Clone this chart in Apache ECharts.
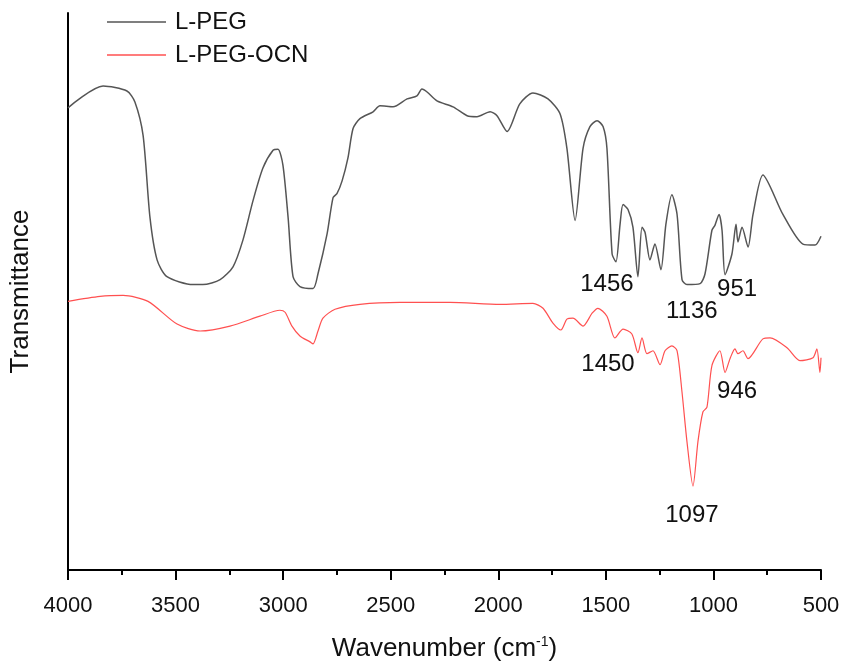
<!DOCTYPE html>
<html>
<head>
<meta charset="utf-8">
<title>FTIR</title>
<script src="https://cdn.jsdelivr.net/npm/echarts@6/dist/echarts.min.js"></script>
<style>
  html, body { margin: 0; padding: 0; background: #fff; }
  #chart { width: 843px; height: 667px; }
</style>
</head>
<body>
<div id="chart"></div>
<script>
// spectra (wavenumber cm-1, transmittance in arbitrary units)
var pegWn = [4000, 3837, 3726, 3689, 3651, 3619, 3586, 3540, 3419, 3373, 3293, 3233, 3187, 3140, 3094, 3047, 3024, 3001, 2977, 2954, 2922, 2861, 2838, 2796, 2768, 2750, 2726, 2699, 2675, 2643, 2582, 2550, 2489, 2424, 2378, 2355, 2331, 2285, 2210, 2145, 2099, 2038, 2006, 1959, 1900, 1839, 1769, 1713, 1681, 1643, 1606, 1574, 1541, 1513, 1495, 1471, 1453, 1434, 1420, 1397, 1374, 1351, 1332, 1318, 1295, 1272, 1244, 1221, 1193, 1169, 1146, 1123, 1062, 1039, 1007, 993, 974, 960, 946, 914, 895, 886, 867, 839, 816, 770, 677, 584, 528, 500];
var pegT = [468, 490, 485, 474, 440, 357, 314, 297, 289, 289, 294, 307, 334, 374, 407, 425, 426, 410, 357, 297, 287, 285, 300, 340, 377, 381, 394, 417, 447, 457, 464, 470, 469, 477, 480, 487, 484, 475, 469, 460, 459, 464, 460, 444, 472, 483, 477, 462, 427, 354, 427, 449, 455, 449, 427, 320, 312, 350, 370, 365, 347, 297, 347, 342, 314, 330, 304, 350, 380, 360, 294, 289, 290, 300, 344, 349, 360, 344, 299, 320, 350, 332, 347, 327, 360, 400, 360, 330, 329, 338];

var ocnWn = [4000, 3851, 3744, 3628, 3493, 3386, 3247, 3108, 3015, 2991, 2959, 2922, 2875, 2861, 2838, 2815, 2759, 2643, 2457, 2224, 1992, 1839, 1792, 1746, 1709, 1681, 1653, 1606, 1564, 1537, 1495, 1458, 1420, 1379, 1351, 1332, 1309, 1281, 1248, 1225, 1193, 1169, 1146, 1123, 1095, 1072, 1049, 1030, 1007, 970, 946, 923, 900, 886, 863, 839, 770, 737, 658, 598, 537, 519, 505, 500];
var ocnT = [272, 277, 278, 272, 249, 242, 247, 257, 263, 261, 247, 237, 231, 229, 242, 255, 264, 269, 271, 271, 269, 270, 265, 250, 243, 254, 255, 247, 260, 265, 257, 235, 244, 239, 220, 235, 219, 222, 208, 222, 227, 222, 180, 130, 85, 130, 160, 165, 207, 222, 200, 214, 224, 219, 222, 214, 234, 235, 225, 212, 215, 224, 200, 215];

// peak labels
var peakNames = ['1456', '1136', '951', '1450', '946', '1097'];
var peakWn = [1495, 1100, 890, 1490, 890, 1100];
var peakT = [289, 262, 284, 208, 181, 55];

function pairs(xs, ys) {
    var out = [];
    for (var i = 0; i < xs.length; i++) {
        out.push([xs[i], ys[i]]);
    }
    return out;
}

var peakData = [];
for (var i = 0; i < peakNames.length; i++) {
    peakData.push({name: peakNames[i], value: [peakWn[i], peakT[i]]});
}

var myChart = echarts.init(document.getElementById('chart'));

var option = {
    backgroundColor: '#fff',
    animation: false,
    textStyle: { fontFamily: 'Liberation Sans, Arial, sans-serif' },
    legend: {
        data: ['L-PEG', 'L-PEG-OCN'],
        orient: 'vertical',
        left: 107,
        top: 10,
        padding: 0,
        icon: 'rect',
        itemWidth: 59,
        itemHeight: 1.5,
        itemGap: 9,
        textStyle: { fontSize: 24, color: '#111', lineHeight: 24, padding: [0, 0, 0, 4] }
    },
    grid: { left: 68, right: 22, top: 13, bottom: 90 },
    xAxis: {
        type: 'value',
        inverse: true,
        min: 500,
        max: 4000,
        interval: 500,
        name: 'Wavenumber (cm{sup|-1})',
        nameLocation: 'middle',
        nameGap: 65,
        nameTextStyle: {
            fontSize: 26,
            color: '#111',
            rich: { sup: { fontSize: 14, color: '#111', padding: [0, 0, 14, 0] } }
        },
        axisLine: { lineStyle: { color: '#000', width: 2 } },
        axisTick: { inside: false, length: 10, lineStyle: { color: '#000', width: 2 } },
        minorTick: { show: true, splitNumber: 2, length: 5, lineStyle: { color: '#000', width: 2 } },
        axisLabel: {
            fontSize: 22,
            color: '#111',
            margin: 25,
            formatter: function (v) { return String(v); }
        },
        splitLine: { show: false }
    },
    yAxis: {
        type: 'value',
        min: 0,
        max: 564,
        name: 'Transmittance',
        nameLocation: 'middle',
        nameGap: 34,
        nameTextStyle: { fontSize: 26, color: '#111' },
        axisLine: { show: true, lineStyle: { color: '#000', width: 2 } },
        axisTick: { show: false },
        axisLabel: { show: false },
        splitLine: { show: false }
    },
    series: [
        {
            name: 'L-PEG',
            type: 'line',
            symbol: 'none',
            smooth: 0.25,
            lineStyle: { color: '#555', width: 1.5 },
            itemStyle: { color: '#555' },
            data: pairs(pegWn, pegT)
        },
        {
            name: 'L-PEG-OCN',
            type: 'line',
            symbol: 'none',
            smooth: 0.25,
            lineStyle: { color: '#ff5050', width: 1.2 },
            itemStyle: { color: '#ff5050' },
            data: pairs(ocnWn, ocnT)
        },
        {
            name: 'peaks',
            type: 'scatter',
            symbolSize: 0,
            silent: true,
            itemStyle: { opacity: 1 },
            label: {
                show: true,
                position: 'inside',
                formatter: '{b}',
                fontSize: 24,
                color: '#111'
            },
            data: peakData
        }
    ]
};

myChart.setOption(option);
</script>
</body>
</html>
